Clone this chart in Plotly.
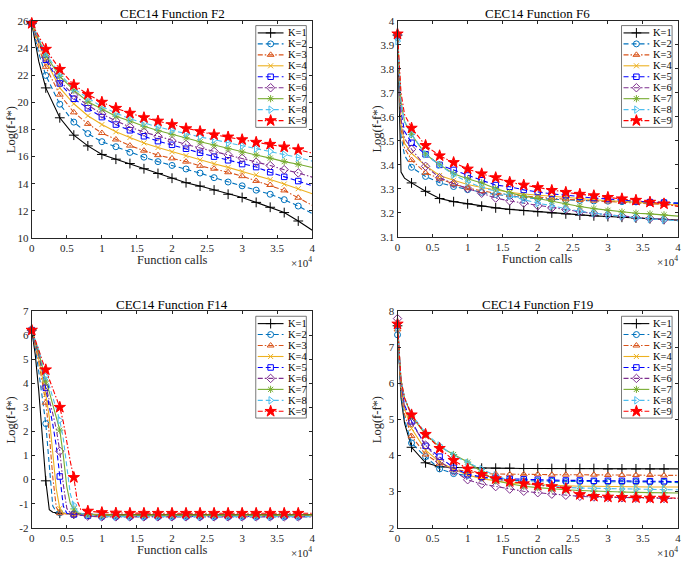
import plotly.graph_objects as go

W, H = 685, 565

K_LABELS = ["K=1", "K=2", "K=3", "K=4", "K=5", "K=6", "K=7", "K=8", "K=9"]
COLORS = ["#000000", "#0072BD", "#D95319", "#EDB120", "#0000FF",
          "#7E2F8E", "#77AC30", "#4DBEEE", "#FF0000"]
DASHES = ["solid", "5px,3px", "5px,2px,1.5px,2px", "solid", "5px,3px",
          "5px,2px,1.5px,2px", "solid", "5px,3px", "5px,2px,1.5px,2px"]
SYMBOLS = ["cross-thin-open", "circle-open", "triangle-up-open", "x-thin-open",
           "square-open", "diamond-open", "asterisk-open", "triangle-right-open", "star"]
MSIZE = [7, 6, 6, 5, 5.5, 6.5, 6, 6.5, 8.5]

# ---------------- F2 ----------------
F2_CALLS = [0, 1000, 2000, 4000, 6000, 8000, 10000, 12000, 14000, 16000, 18000, 20000,
            22000, 24000, 26000, 28000, 30000, 32000, 34000, 36000, 38000, 40000]
F2_VALUES = [
    [25.8, 23.0, 21.05, 18.85, 17.57, 16.78, 16.15, 15.8, 15.48, 15.1, 14.75, 14.4, 14.07, 13.82, 13.53, 13.22, 12.98, 12.62, 12.26, 11.87, 11.25, 10.57],
    [25.8, 23.6, 21.97, 19.85, 18.53, 17.69, 17.09, 16.72, 16.3, 15.95, 15.62, 15.34, 15.08, 14.78, 14.44, 14.12, 13.84, 13.52, 13.22, 12.82, 12.35, 11.8],
    [25.8, 24.0, 22.6, 20.55, 19.25, 18.4, 17.73, 17.25, 16.8, 16.43, 16.1, 15.86, 15.62, 15.31, 15.1, 14.84, 14.55, 14.2, 13.9, 13.5, 12.96, 12.4],
    [25.8, 24.3, 23.08, 21.05, 19.88, 19.0, 18.35, 17.82, 17.4, 17.0, 16.66, 16.35, 16.06, 15.75, 15.47, 15.2, 14.9, 14.65, 14.3, 13.97, 13.63, 13.25],
    [25.8, 24.4, 23.12, 21.38, 20.25, 19.55, 18.9, 18.35, 17.93, 17.49, 17.13, 16.86, 16.57, 16.27, 15.99, 15.72, 15.44, 15.22, 14.84, 14.5, 14.19, 13.85],
    [25.8, 24.5, 23.3, 21.55, 20.5, 19.78, 19.13, 18.62, 18.17, 17.8, 17.49, 17.15, 16.89, 16.63, 16.37, 16.12, 15.87, 15.58, 15.33, 15.03, 14.79, 14.48],
    [25.8, 24.6, 23.45, 21.9, 20.88, 20.03, 19.49, 18.97, 18.62, 18.22, 17.92, 17.63, 17.38, 17.08, 16.84, 16.58, 16.33, 16.11, 15.88, 15.62, 15.43, 15.19],
    [25.8, 24.7, 23.6, 22.05, 21.0, 20.3, 19.67, 19.2, 18.78, 18.47, 18.17, 17.93, 17.68, 17.44, 17.24, 17.0, 16.79, 16.58, 16.37, 16.15, 15.92, 15.66],
    [25.8, 24.85, 23.9, 22.42, 21.27, 20.58, 20.0, 19.55, 19.19, 18.86, 18.61, 18.35, 18.05, 17.84, 17.6, 17.44, 17.24, 17.05, 16.9, 16.7, 16.5, 16.25],
]

# ---------------- F6 ----------------
F6_CALLS = [0, 500, 1000, 2000, 4000, 6000, 8000, 10000, 12000, 14000, 16000, 18000, 20000,
            22000, 24000, 26000, 28000, 30000, 32000, 34000, 36000, 38000, 40000]
F6_VALUES = [
    [3.94, 3.37, 3.345, 3.325, 3.29, 3.26, 3.247, 3.238, 3.228, 3.221, 3.215, 3.21, 3.205, 3.2, 3.196, 3.191, 3.188, 3.185, 3.182, 3.179, 3.176, 3.173, 3.17],
    [3.93, 3.52, 3.44, 3.39, 3.352, 3.326, 3.31, 3.297, 3.286, 3.277, 3.27, 3.264, 3.26, 3.257, 3.254, 3.252, 3.25, 3.249, 3.247, 3.246, 3.245, 3.244, 3.242],
    [3.94, 3.55, 3.47, 3.42, 3.367, 3.343, 3.32, 3.303, 3.291, 3.282, 3.276, 3.27, 3.265, 3.261, 3.257, 3.254, 3.251, 3.248, 3.246, 3.243, 3.24, 3.236, 3.232],
    [3.94, 3.57, 3.49, 3.448, 3.397, 3.356, 3.336, 3.318, 3.306, 3.295, 3.286, 3.279, 3.274, 3.268, 3.263, 3.259, 3.255, 3.251, 3.248, 3.244, 3.241, 3.237, 3.233],
    [3.94, 3.62, 3.54, 3.492, 3.444, 3.4, 3.379, 3.356, 3.336, 3.316, 3.309, 3.296, 3.287, 3.279, 3.274, 3.267, 3.262, 3.258, 3.253, 3.248, 3.245, 3.243, 3.24],
    [3.94, 3.59, 3.51, 3.465, 3.394, 3.347, 3.322, 3.302, 3.282, 3.262, 3.25, 3.241, 3.23, 3.221, 3.214, 3.205, 3.198, 3.192, 3.187, 3.182, 3.177, 3.173, 3.17],
    [3.94, 3.66, 3.58, 3.526, 3.444, 3.401, 3.363, 3.342, 3.325, 3.302, 3.284, 3.27, 3.26, 3.248, 3.237, 3.227, 3.218, 3.211, 3.204, 3.199, 3.196, 3.192, 3.187],
    [3.915, 3.66, 3.58, 3.528, 3.444, 3.399, 3.359, 3.329, 3.307, 3.289, 3.272, 3.255, 3.241, 3.229, 3.217, 3.207, 3.199, 3.191, 3.186, 3.18, 3.175, 3.171, 3.167],
    [3.945, 3.7, 3.61, 3.553, 3.481, 3.438, 3.41, 3.383, 3.363, 3.347, 3.328, 3.316, 3.306, 3.294, 3.286, 3.278, 3.272, 3.265, 3.259, 3.253, 3.245, 3.238, 3.227],
]

# ---------------- F14 ----------------
F14_CALLS = [0, 500, 1000, 1500, 2000, 2500, 3000, 3500, 4000, 4500, 5000, 5500, 6000,
             6500, 7000, 7500, 8000, 10000, 12000, 14000, 16000, 18000, 20000, 22000,
             24000, 26000, 28000, 30000, 32000, 34000, 36000, 38000, 40000]
N = None
F14_VALUES = [
    [6.22, 5.2, 3.7, 1.8, -0.05, -1.25, -1.36, N, -1.4, N, N, N, -1.43, N, N, N, -1.44] + [-1.45] * 16,
    [6.22, 5.5, 4.5, 3.45, 2.33, 0.6, -1.1, -1.33, -1.38, N, N, N, -1.45, N, N, N, -1.5] + [-1.53] * 16,
    [6.22, 5.6, 4.9, 4.05, 3.2, 1.9, 0.1, -1.15, -1.4, N, N, N, -1.46, N, N, N, -1.48] + [-1.5] * 16,
    [6.22, 5.7, 5.0, 4.3, 3.55, 2.6, 1.2, -0.4, -1.2, -1.4, N, N, -1.44, N, N, N, -1.46] + [-1.47] * 16,
    [6.22, 5.75, 5.2, 4.55, 3.82, 3.1, 2.3, 1.4, 0.13, -1.1, -1.4, N, -1.45, N, N, N, -1.5] + [-1.52] * 16,
    [6.22, 5.75, 5.2, 4.55, 3.85, 3.3, 2.75, 2.1, 1.18, -0.2, -1.2, -1.38, -1.43, N, N, N, -1.52] + [-1.55] * 16,
    [6.22, 5.8, 5.3, 4.7, 4.1, 3.65, 3.15, 2.65, 2.06, 1.0, -0.3, -1.0, -1.22, -1.38, N, N, -1.45] + [-1.48] * 16,
    [6.22, 5.85, 5.4, 4.85, 4.3, 3.9, 3.45, 2.95, 2.47, 1.7, 0.5, -0.6, -1.06, -1.32, -1.4, N, -1.47] + [-1.54] * 16,
    [6.22, 5.85, 5.4, 4.95, 4.57, 4.2, 3.8, 3.4, 3.01, 2.4, 1.5, 0.75, 0.09, -0.9, -1.25, -1.3, -1.31, -1.37, -1.39] + [-1.4] * 14,
]

# ---------------- F19 ----------------
F19_CALLS = [0, 500, 1000, 2000, 4000, 6000, 8000, 10000, 12000, 14000, 16000, 18000, 20000,
             22000, 24000, 26000, 28000, 30000, 32000, 34000, 36000, 38000, 40000]
F19_VALUES = [
    [7.6, 5.6, 4.9, 4.23, 3.8, 3.69, 3.67, 3.66, 3.65, 3.65, 3.65, 3.64, 3.64, 3.64, 3.64, 3.64, 3.64, 3.63, 3.63, 3.63, 3.63, 3.63, 3.63],
    [7.35, 5.7, 5.0, 4.35, 3.97, 3.63, 3.5, 3.45, 3.38, 3.34, 3.31, 3.3, 3.29, 3.29, 3.28, 3.28, 3.28, 3.27, 3.27, 3.27, 3.27, 3.26, 3.25],
    [7.5, 5.8, 5.15, 4.54, 4.03, 3.78, 3.62, 3.55, 3.5, 3.49, 3.48, 3.48, 3.48, 3.47, 3.47, 3.47, 3.47, 3.46, 3.46, 3.46, 3.46, 3.45, 3.45],
    [7.55, 5.9, 5.3, 4.75, 4.15, 3.82, 3.62, 3.46, 3.36, 3.29, 3.24, 3.21, 3.19, 3.17, 3.16, 3.15, 3.15, 3.14, 3.14, 3.14, 3.13, 3.13, 3.13],
    [7.6, 6.0, 5.4, 4.95, 4.27, 3.97, 3.66, 3.48, 3.41, 3.37, 3.35, 3.34, 3.33, 3.32, 3.31, 3.31, 3.3, 3.3, 3.3, 3.3, 3.29, 3.29, 3.28],
    [7.8, 6.0, 5.35, 4.91, 4.29, 3.84, 3.57, 3.33, 3.21, 3.14, 3.07, 3.01, 2.97, 2.93, 2.9, 2.87, 2.85, 2.84, 2.83, 2.82, 2.82, 2.81, 2.81],
    [7.6, 6.1, 5.6, 5.1, 4.58, 4.25, 4.03, 3.82, 3.55, 3.3, 3.22, 3.15, 3.11, 3.07, 3.05, 3.03, 3.01, 3.0, 2.99, 2.98, 2.97, 2.97, 2.96],
    [7.55, 6.1, 5.6, 5.15, 4.62, 4.28, 4.0, 3.8, 3.62, 3.45, 3.3, 3.22, 3.18, 3.15, 3.12, 3.1, 3.09, 3.08, 3.08, 3.07, 3.07, 3.06, 3.05],
    [7.65, 6.1, 5.6, 5.13, 4.59, 4.2, 3.87, 3.63, 3.48, 3.36, 3.28, 3.22, 3.18, 3.14, 3.08, 2.92, 2.87, 2.85, 2.84, 2.83, 2.82, 2.82, 2.82],
]

X_TICKS = [0, 0.5, 1, 1.5, 2, 2.5, 3, 3.5, 4]
X_TICKTEXT = ["0", "0.5", "1", "1.5", "2", "2.5", "3", "3.5", "4"]

PANELS = [
    dict(title="CEC14 Function F2", calls=F2_CALLS, values=F2_VALUES,
         xpx=(29, 312), ypx=(15, 237), yrange=(10, 26),
         yticks=[10, 12, 14, 16, 18, 20, 22, 24, 26],
         yticktext=["10", "12", "14", "16", "18", "20", "22", "24", "26"]),
    dict(title="CEC14 Function F6", calls=F6_CALLS, values=F6_VALUES,
         xpx=(398, 681), ypx=(15, 236), yrange=(3.1, 4.0),
         yticks=[3.1, 3.2, 3.3, 3.4, 3.5, 3.6, 3.7, 3.8, 3.9, 4.0],
         yticktext=["3.1", "3.2", "3.3", "3.4", "3.5", "3.6", "3.7", "3.8", "3.9", "4"]),
    dict(title="CEC14 Function F14", calls=F14_CALLS, values=F14_VALUES,
         xpx=(29, 312), ypx=(312, 533), yrange=(-2, 7),
         yticks=[-2, -1, 0, 1, 2, 3, 4, 5, 6, 7],
         yticktext=["-2", "-1", "0", "1", "2", "3", "4", "5", "6", "7"]),
    dict(title="CEC14 Function F19", calls=F19_CALLS, values=F19_VALUES,
         xpx=(398, 681), ypx=(312, 533), yrange=(2, 8),
         yticks=[2, 3, 4, 5, 6, 7, 8],
         yticktext=["2", "3", "4", "5", "6", "7", "8"]),
]

FONT = "Liberation Serif"
AXC = "#262626"

fig = go.Figure()
annotations = []
layout_axes = {}


def px_x(p):
    return p / W


def px_y(p):
    return 1 - p / H


for i, P in enumerate(PANELS):
    n = i + 1
    xa = "x" if n == 1 else f"x{n}"
    ya = "y" if n == 1 else f"y{n}"
    calls = P["calls"]
    xs = [c / 1e4 for c in calls]
    for k in range(9):
        ys = P["values"][k]
        fig.add_trace(go.Scatter(
            x=xs, y=ys, mode="lines", connectgaps=True, xaxis=xa, yaxis=ya,
            line=dict(color=COLORS[k], width=1.1, dash=DASHES[k]),
            hoverinfo="skip", showlegend=False))
        mx = [x for c, x, y in zip(calls, xs, ys) if c % 2000 == 0 and c < 40000 and y is not None]
        my = [y for c, y in zip(calls, ys) if c % 2000 == 0 and c < 40000 and y is not None]
        fig.add_trace(go.Scatter(
            x=mx, y=my, mode="markers", xaxis=xa, yaxis=ya, cliponaxis=False,
            marker=dict(symbol=SYMBOLS[k], size=MSIZE[k], color=COLORS[k],
                        line=dict(color=COLORS[k], width=1)),
            hoverinfo="skip", showlegend=False))

    x0, x1 = P["xpx"]
    y0, y1 = P["ypx"]
    common = dict(showline=True, linecolor=AXC, linewidth=1, mirror="ticks",
                  ticks="inside", ticklen=3, tickcolor=AXC, tickwidth=1,
                  showgrid=False, zeroline=False,
                  tickfont=dict(family=FONT, size=11, color=AXC))
    layout_axes["xaxis" if n == 1 else f"xaxis{n}"] = dict(
        domain=[px_x(x0), px_x(x1)], range=[0, 4], anchor=ya,
        tickmode="array", tickvals=X_TICKS, ticktext=X_TICKTEXT, **common)
    layout_axes["yaxis" if n == 1 else f"yaxis{n}"] = dict(
        domain=[px_y(y1), px_y(y0)], range=list(P["yrange"]), anchor=xa,
        tickmode="array", tickvals=P["yticks"], ticktext=P["yticktext"], **common)

    cx = (x0 + x1) / 2
    annotations.append(dict(text=P["title"], x=px_x(cx), y=px_y(y0 - 7), xref="paper", yref="paper",
                            xanchor="center", yanchor="middle", showarrow=False,
                            font=dict(family=FONT, size=13, color="black")))
    annotations.append(dict(text="Function calls", x=px_x(cx), y=px_y(y1 + 23), xref="paper", yref="paper",
                            xanchor="center", yanchor="middle", showarrow=False,
                            font=dict(family=FONT, size=12.5, color=AXC)))
    annotations.append(dict(text="×10<sup>4</sup>", x=px_x(x1 + 2), y=px_y(y1 + 25), xref="paper", yref="paper",
                            xanchor="right", yanchor="middle", showarrow=False,
                            font=dict(family=FONT, size=11, color=AXC)))
    annotations.append(dict(text="Log(f-f*)", x=px_x(x0 - 21), y=px_y((y0 + y1) / 2), xref="paper", yref="paper",
                            xanchor="center", yanchor="middle", showarrow=False, textangle=-90,
                            font=dict(family=FONT, size=12.5, color=AXC)))

    # legend box (pixel coordinates on an overlay axis)
    bl, br = x1 - 57, x1 - 6
    bt = y0 + 5
    bb = bt + 104
    fig.add_trace(go.Scatter(
        x=[bl, br, br, bl, bl], y=[bt, bt, bb, bb, bt], mode="lines", fill="toself",
        fillcolor="white", line=dict(color="#555555", width=0.8),
        xaxis="x5", yaxis="y5", hoverinfo="skip", showlegend=False))
    for k in range(9):
        iy = bt + 7.5 + k * 11.2
        fig.add_trace(go.Scatter(
            x=[bl + 2, bl + 28], y=[iy, iy], mode="lines",
            line=dict(color=COLORS[k], width=1.1, dash=DASHES[k]),
            xaxis="x5", yaxis="y5", hoverinfo="skip", showlegend=False))
        fig.add_trace(go.Scatter(
            x=[bl + 15], y=[iy], mode="markers",
            marker=dict(symbol=SYMBOLS[k], size=MSIZE[k], color=COLORS[k],
                        line=dict(color=COLORS[k], width=1)),
            xaxis="x5", yaxis="y5", hoverinfo="skip", showlegend=False))
        annotations.append(dict(text=K_LABELS[k], x=px_x(bl + 30), y=px_y(iy), xref="paper", yref="paper",
                                xanchor="left", yanchor="middle", showarrow=False,
                                font=dict(family=FONT, size=10.5, color="black")))

layout_axes["xaxis5"] = dict(domain=[0, 1], range=[0, W], visible=False, anchor="y5", fixedrange=True)
layout_axes["yaxis5"] = dict(domain=[0, 1], range=[H, 0], visible=False, anchor="x5", fixedrange=True)

fig.update_layout(
    width=W, height=H, margin=dict(l=0, r=0, t=0, b=0),
    paper_bgcolor="white", plot_bgcolor="rgba(0,0,0,0)",
    showlegend=False, annotations=annotations, **layout_axes)

fig.write_html("out.html", config={"displayModeBar": False},
               post_script="document.body.style.margin='0px';document.body.style.padding='0px';document.body.style.overflow='hidden';")
